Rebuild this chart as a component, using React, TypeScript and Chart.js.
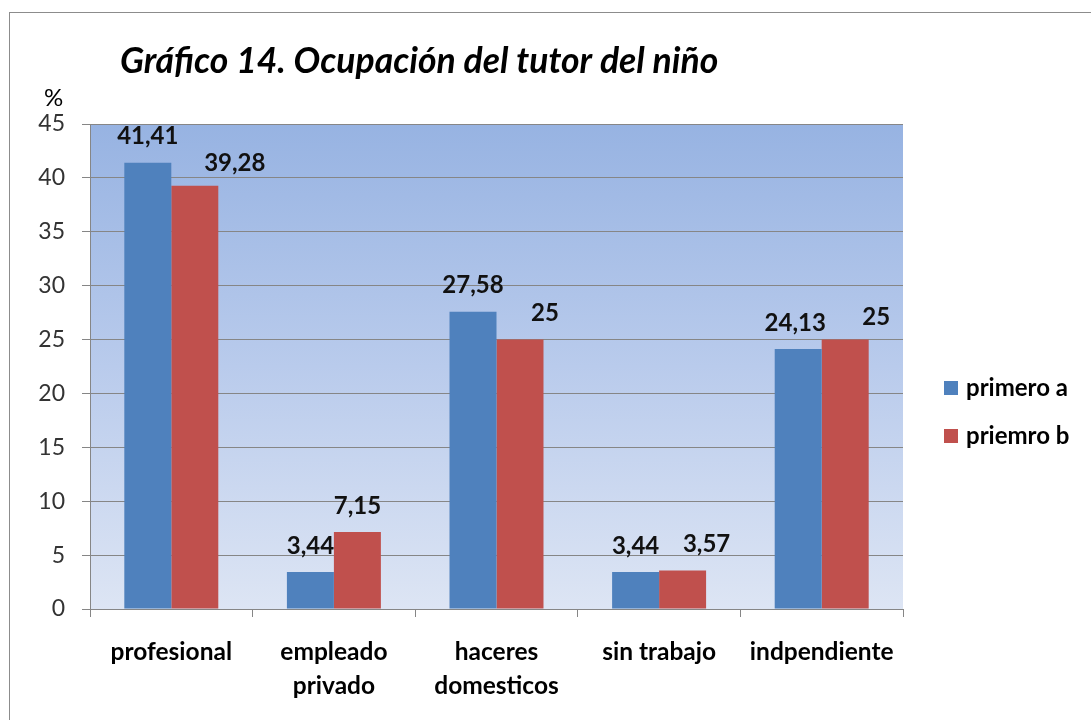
import React, { useEffect, useRef } from "react";
import { Chart, registerables } from "chart.js";

Chart.register(...registerables);

const categories: (string | string[])[] = [
  "profesional",
  ["empleado", "privado"],
  ["haceres", "domesticos"],
  "sin trabajo",
  "indpendiente",
];
const seriesNames = ["primero a", "priemro b"];
const primeroA = [41.41, 3.44, 27.58, 3.44, 24.13];
const priemroB = [39.28, 7.15, 25, 3.57, 25];
const yTicks = [0, 5, 10, 15, 20, 25, 30, 35, 40, 45];
const title = "Gráfico 14. Ocupación del tutor del niño";
const yUnit = "%";

// manual label nudges (as in the original chart), pixels
const labelShiftX = [
  [0, 0, 0, 0, -3],
  [40, 0, 25, 24, 31],
];
const labelShiftY = [
  [0, 0, 0, 0, 0],
  [4, 0, 0, 0, 4],
];

const FONT = "Lato, 'Open Sans', sans-serif";
const BLUE = "#4f81bd";
const RED = "#c0504d";
const GRID = "#868686";

const fmt = (v: number) => String(v).replace(".", ",");

const decorPlugin = {
  id: "decor",
  beforeDraw(chart: any) {
    const { ctx, chartArea } = chart;
    ctx.save();
    ctx.fillStyle = "#ffffff";
    ctx.fillRect(0, 0, chart.width, chart.height);
    // outer frame
    ctx.strokeStyle = "#8c8c8c";
    ctx.lineWidth = 1;
    ctx.strokeRect(9.5, 12.5, chart.width + 50, chart.height + 50);
    // plot gradient
    const g = ctx.createLinearGradient(0, chartArea.top, 0, chartArea.bottom);
    g.addColorStop(0, "#97b3e2");
    g.addColorStop(0.5, "#b9cbec");
    g.addColorStop(1, "#dde5f4");
    ctx.fillStyle = g;
    ctx.fillRect(chartArea.left, chartArea.top, chartArea.right - chartArea.left, chartArea.bottom - chartArea.top);
    // title
    ctx.fillStyle = "#000";
    ctx.font = `italic bold 35.5px ${FONT}`;
    ctx.textAlign = "left";
    ctx.textBaseline = "middle";
    ctx.fillText(title, 120, 62);
    // unit
    ctx.font = `24px ${FONT}`;
    ctx.fillStyle = "#000";
    ctx.fillText(yUnit, 44, 98);
    ctx.restore();
  },
  afterDatasetsDraw(chart: any) {
    const { ctx } = chart;
    ctx.save();
    ctx.font = `bold 24px ${FONT}`;
    ctx.fillStyle = "#111";
    ctx.textAlign = "center";
    ctx.textBaseline = "middle";
    chart.data.datasets.forEach((ds: any, di: number) => {
      const meta = chart.getDatasetMeta(di);
      meta.data.forEach((el: any, i: number) => {
        ctx.fillText(fmt(ds.data[i]), el.x + labelShiftX[di][i], el.y - 26 + labelShiftY[di][i]);
      });
    });
    // legend
    const colors = [BLUE, RED];
    ctx.font = `bold 24px ${FONT}`;
    ctx.textAlign = "left";
    seriesNames.forEach((n, i) => {
      const cy = 388 + i * 48;
      ctx.fillStyle = colors[i];
      ctx.fillRect(944, cy - 7, 14, 14);
      ctx.fillStyle = "#000";
      ctx.fillText(n, 966, cy);
    });
    ctx.restore();
  },
};

export default function App() {
  const ref = useRef<HTMLCanvasElement>(null);
  useEffect(() => {
    if (!ref.current) return;
    const chart = new Chart(ref.current, {
      type: "bar",
      data: {
        labels: categories,
        datasets: [
          { label: seriesNames[0], data: primeroA, backgroundColor: BLUE, borderWidth: 0 },
          { label: seriesNames[1], data: priemroB, backgroundColor: RED, borderWidth: 0 },
        ],
      },
      options: {
        animation: false,
        responsive: false,
        devicePixelRatio: 1,
        layout: { padding: { left: 0, top: 124, right: 188, bottom: 0 } },
        plugins: {
          legend: { display: false },
          title: { display: false },
          tooltip: { enabled: false },
        },
        datasets: { bar: { barPercentage: 1, categoryPercentage: 0.578 } },
        scales: {
          x: {
            offset: true,
            grid: { drawOnChartArea: false, drawTicks: true, tickLength: 8, color: GRID, offset: true },
            border: { color: GRID },
            ticks: {
              color: "#000",
              padding: 19,
              maxRotation: 0,
              autoSkip: false,
              font: { family: FONT, size: 24.5, weight: "bold", lineHeight: 1.35 },
            },
            afterFit(scale: any) {
              scale.height = 111;
            },
          },
          y: {
            min: 0,
            max: 45,
            afterBuildTicks(scale: any) {
              scale.ticks = yTicks.map((v) => ({ value: v }));
            },
            grid: { color: GRID, tickLength: 8 },
            border: { color: GRID },
            ticks: {
              color: "#333",
              padding: 17,
              font: { family: FONT, size: 23 },
            },
            afterFit(scale: any) {
              scale.width = 90;
            },
          },
        },
      },
      plugins: [decorPlugin],
    } as any);
    return () => chart.destroy();
  }, []);
  return (
    <div style={{ position: "fixed", left: 0, top: 0, width: 1091, height: 720, background: "#fff" }}>
      <canvas ref={ref} width={1091} height={720} style={{ display: "block" }} />
    </div>
  );
}
